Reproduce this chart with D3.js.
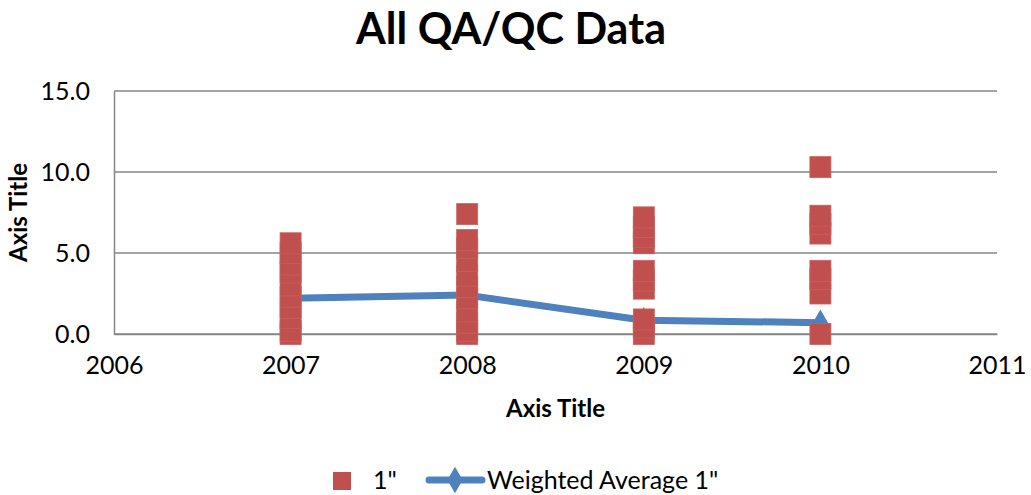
<!DOCTYPE html>
<html>
<head>
<meta charset="utf-8">
<script src="https://cdn.jsdelivr.net/npm/d3@7"></script>
<style>
  body { margin: 0; background: #fff; }
  text { font-family: Lato, "Open Sans", sans-serif; fill: #000; }
</style>
</head>
<body>
<div id="chart"></div>
<script>
// Scatter values for the 1" series, per year
const years2007 = [0.0, 0.2, 1.0, 1.6, 2.3, 3.0, 3.8, 4.3, 5.0, 5.6];
const years2008 = [0.0, 0.2, 0.7, 1.4, 2.2, 2.9, 3.6, 4.5, 5.3, 5.8, 7.4];
const years2009 = [0.0, 0.4, 0.9, 2.8, 3.3, 3.9, 5.6, 6.0, 6.6, 7.2];
const years2010 = [0.0, 2.5, 3.4, 3.9, 6.2, 6.8, 7.3, 10.3];

// Weighted average line
const avgYears = [2007, 2008, 2009, 2010];
const avgValues = [2.2, 2.4, 0.85, 0.7];

const xTicks = [2006, 2007, 2008, 2009, 2010, 2011];
const yTicks = [0, 5, 10, 15];

const scatter = [];
[[2007, years2007], [2008, years2008], [2009, years2009], [2010, years2010]].forEach(([yr, vals]) => {
    vals.forEach(v => scatter.push({ year: yr, value: v }));
});

const W = 1031, H = 495;
const margin = { top: 91, right: 34, bottom: 161, left: 114 },
    width = W - margin.left - margin.right,
    height = H - margin.top - margin.bottom;

const svg = d3.select("#chart").append("svg")
    .attr("width", W)
    .attr("height", H);

const g = svg.append("g")
    .attr("transform", "translate(" + margin.left + "," + margin.top + ")");

const x = d3.scaleLinear().domain([2006, 2011]).range([0, width]);
const y = d3.scaleLinear().domain([0, 15]).range([height, 0]);

// Gridlines
g.selectAll(".grid")
    .data(yTicks)
    .enter()
    .append("line")
    .attr("x1", 0)
    .attr("x2", width)
    .attr("y1", d => y(d))
    .attr("y2", d => y(d))
    .attr("stroke", "#868686")
    .attr("stroke-width", 1.5);

// Y axis
const yAxis = g.append("g")
    .call(d3.axisLeft(y).tickValues(yTicks).tickFormat(d3.format(".1f")).tickSize(0).tickPadding(24));
yAxis.select(".domain").attr("stroke", "#868686").attr("stroke-width", 1.5);
yAxis.selectAll("text").style("font-size", "25px").style("font-family", "Lato, sans-serif");

// X axis
const xAxis = g.append("g")
    .attr("transform", "translate(0," + height + ")")
    .call(d3.axisBottom(x).tickValues(xTicks).tickFormat(d3.format("d")).tickSize(0).tickPadding(22));
xAxis.select(".domain").attr("stroke", "#868686").attr("stroke-width", 1.5);
xAxis.selectAll("text").style("font-size", "25px").style("font-family", "Lato, sans-serif");

// Weighted average line
const line = d3.line().x((d, i) => x(avgYears[i])).y(d => y(d));
g.append("path")
    .datum(avgValues)
    .attr("d", line)
    .attr("fill", "none")
    .attr("stroke", "#4f81bd")
    .attr("stroke-width", 7)
    .attr("stroke-linejoin", "round");

const diamond = d3.symbol().type(d3.symbolDiamond).size(200);
g.selectAll(".avgpt")
    .data(avgValues)
    .enter()
    .append("path")
    .attr("d", diamond)
    .attr("transform", (d, i) => "translate(" + x(avgYears[i]) + "," + y(d) + ")")
    .attr("fill", "#4f81bd");

// Scatter squares
const sq = 21;
g.selectAll(".pt")
    .data(scatter)
    .enter()
    .append("rect")
    .attr("x", d => x(d.year) - sq / 2)
    .attr("y", d => y(d.value) - sq / 2)
    .attr("width", sq)
    .attr("height", sq)
    .attr("fill", "#c0504d")
    .attr("stroke", "#c8605d")
    .attr("stroke-width", 0.8);

// Title
svg.append("text")
    .attr("x", 511)
    .attr("y", 44)
    .attr("text-anchor", "middle")
    .style("font-size", "43px")
    .style("font-weight", "bold")
    .text("All QA/QC Data");

// Axis titles
svg.append("text")
    .attr("x", margin.left + width / 2)
    .attr("y", 417)
    .attr("text-anchor", "middle")
    .style("font-size", "24px")
    .style("font-weight", "bold")
    .text("Axis Title");

svg.append("text")
    .attr("transform", "translate(27," + (margin.top + height / 2) + ") rotate(-90)")
    .attr("text-anchor", "middle")
    .style("font-size", "24px")
    .style("font-weight", "bold")
    .text("Axis Title");

// Legend
const legend = svg.append("g");
legend.append("rect")
    .attr("x", 333).attr("y", 472).attr("width", 18).attr("height", 18)
    .attr("fill", "#c0504d");
legend.append("text")
    .attr("x", 373).attr("y", 489)
    .style("font-size", "25px")
    .text("1\"");
legend.append("line")
    .attr("x1", 429).attr("x2", 482).attr("y1", 480).attr("y2", 480)
    .attr("stroke", "#4f81bd").attr("stroke-width", 7).attr("stroke-linecap", "round");
legend.append("path")
    .attr("d", diamond)
    .attr("transform", "translate(455,480)")
    .attr("fill", "#4f81bd");
legend.append("text")
    .attr("x", 487).attr("y", 489)
    .style("font-size", "25px")
    .text("Weighted Average 1\"");
</script>
</body>
</html>
